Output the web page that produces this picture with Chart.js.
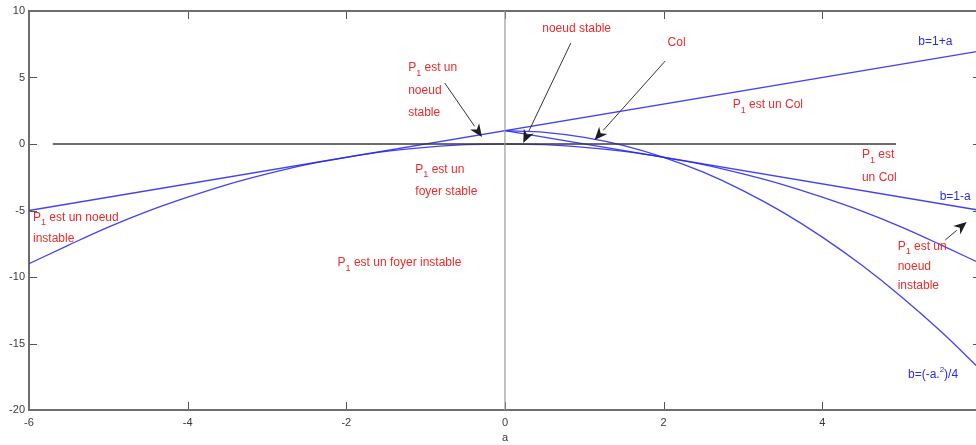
<!DOCTYPE html>
<html>
<head>
<meta charset="utf-8">
<script src="https://cdn.jsdelivr.net/npm/chart.js@4/dist/chart.umd.min.js"></script>
<style>
  html, body { margin: 0; padding: 0; background: #fff; overflow: hidden; }
  #wrap { position: relative; width: 990px; height: 445px; }
</style>
</head>
<body>
<div id="wrap"><canvas id="c"></canvas></div>
<script>
// Tick values of the two axes
const aTicks = [-6, -4, -2, 0, 2, 4, 6];
const bTicks = [-20, -15, -10, -5, 0, 5, 10];

// b = 1 + a
const risingA = [-6, 6];
const risingB = [-5, 7];

// b = 1 - a (right half)
const fallingA = [0, 6];
const fallingB = [1, -5];

// b = -a^2/4
const parabolaA = [-6, -5.5, -5, -4.5, -4, -3.5, -3, -2.5, -2, -1.5, -1, -0.5, 0,
                   0.5, 1, 1.5, 2, 2.5, 3, 3.5, 4, 4.5, 5, 5.5, 6];
const parabolaB = [-9, -7.6, -6.25, -5.05, -4, -3.05, -2.25, -1.55, -1, -0.55, -0.25, -0.05, 0,
                   -0.05, -0.25, -0.55, -1, -1.55, -2.25, -3.05, -4, -5.05, -6.25, -7.6, -9];

// steep curve starting at (0, 1)
const steepA = [0, 0.5, 1, 1.5, 2, 2.5, 3, 3.5, 4, 4.5, 5, 5.5, 6];
const steepB = [1, 0.88, 0.5, -0.12, -1, -2.12, -3.5, -5.12, -7, -9.12, -11.5, -14.12, -17];

// b = 0 reference line and a = 0 axis
const zeroLineA = [-5.7, 4.93];
const zeroLineB = [0, 0];
const vertA = [0, 0];
const vertB = [-20, 10];

function pts(xs, ys) { return xs.map((x, i) => ({ x: x, y: ys[i] })); }

const RED = '#ee2c2c';
const BLUE = '#2a2aee';
const FONT = '"Liberation Sans", Arial, sans-serif';

// Region labels: each entry is a list of text lines; "P1" gets a subscript 1
const notes = [
  { lines: ['§P est un', 'noeud', 'stable'], a: -1.22, b: 5.71, gap: 1.68, color: RED },
  { lines: ['noeud stable'], a: 0.47, b: 8.65, gap: 0, color: RED },
  { lines: ['Col'], a: 2.05, b: 7.59, gap: 0, color: RED },
  { lines: ['§P est un Col'], a: 2.87, b: 2.93, gap: 0, color: RED },
  { lines: ['§P est', 'un Col'], a: 4.5, b: -0.83, gap: 1.73, color: RED },
  { lines: ['§P est un', 'noeud', 'instable'], a: 4.95, b: -7.74, gap: 1.47, color: RED },
  { lines: ['§P est un foyer instable'], a: -2.11, b: -8.95, gap: 0, color: RED },
  { lines: ['§P est un', 'foyer stable'], a: -1.13, b: -1.95, gap: 1.66, color: RED },
  { lines: ['§P est un noeud', 'instable'], a: -5.95, b: -5.55, gap: 1.58, color: RED },
  { lines: ['b=1+a'], a: 5.21, b: 7.67, gap: 0, color: BLUE },
  { lines: ['b=1-a'], a: 5.48, b: -3.98, gap: 0, color: BLUE },
  { lines: ['%b=(-a.|2|)/4'], a: 5.08, b: -17.37, gap: 0, color: BLUE }
];

// Pointer arrows: from (a0,b0) to tip (a1,b1)
const arrows = [
  { a0: -0.76, b0: 4.59, a1: -0.29, b1: 0.53 },
  { a0: 0.83, b0: 7.59, a1: 0.23, b1: 0.08 },
  { a0: 2.02, b0: 6.24, a1: 1.13, b1: 0.30 },
  { a0: 5.55, b0: -7.22, a1: 5.82, b1: -5.86 }
];

const framePlugin = {
  id: 'frame',
  beforeDatasetsDraw(chart) {
    const { ctx, chartArea: ca, scales } = chart;
    ctx.save();
    ctx.strokeStyle = '#555';
    ctx.lineWidth = 1;
    const tl = 8;
    aTicks.forEach(v => {
      const x = Math.round(scales.x.getPixelForValue(v)) + 0.5;
      ctx.beginPath();
      ctx.moveTo(x, ca.top); ctx.lineTo(x, ca.top + tl);
      ctx.moveTo(x, ca.bottom); ctx.lineTo(x, ca.bottom - tl);
      ctx.stroke();
    });
    bTicks.forEach(v => {
      const y = Math.round(scales.y.getPixelForValue(v)) + 0.5;
      ctx.beginPath();
      ctx.moveTo(ca.left, y); ctx.lineTo(ca.left + tl, y);
      ctx.moveTo(ca.right, y); ctx.lineTo(ca.right - tl, y);
      ctx.stroke();
    });
    ctx.strokeStyle = '#6e6e6e';
    ctx.lineWidth = 2;
    ctx.strokeRect(ca.left, ca.top, ca.right - ca.left, ca.bottom - ca.top);
    ctx.restore();
  },
  afterDatasetsDraw(chart) {
    const { ctx, scales } = chart;
    const X = v => scales.x.getPixelForValue(v);
    const Y = v => scales.y.getPixelForValue(v);
    ctx.save();
    // arrows
    ctx.strokeStyle = '#333';
    ctx.fillStyle = '#1e1e1e';
    ctx.lineWidth = 1;
    arrows.forEach(ar => {
      const x0 = X(ar.a0), y0 = Y(ar.b0), x1 = X(ar.a1), y1 = Y(ar.b1);
      const ang = Math.atan2(y1 - y0, x1 - x0);
      const len = 13, half = 5.5;
      const bx = x1 - len * Math.cos(ang), by = y1 - len * Math.sin(ang);
      ctx.beginPath();
      ctx.moveTo(x0, y0); ctx.lineTo(bx, by);
      ctx.stroke();
      ctx.beginPath();
      ctx.moveTo(x1, y1);
      ctx.lineTo(bx + half * Math.sin(ang), by - half * Math.cos(ang));
      ctx.lineTo(bx + 4 * Math.cos(ang), by + 4 * Math.sin(ang));
      ctx.lineTo(bx - half * Math.sin(ang), by + half * Math.cos(ang));
      ctx.closePath();
      ctx.fill();
    });
    // labels
    ctx.textBaseline = 'middle';
    ctx.textAlign = 'left';
    notes.forEach(n => {
      ctx.fillStyle = n.color;
      n.lines.forEach((line, i) => {
        let x = X(n.a);
        const y = Y(n.b - i * n.gap);
        ctx.font = '12px ' + FONT;
        if (line.startsWith('§')) {
          // P with subscript 1
          ctx.fillText('P', x, y);
          x += ctx.measureText('P').width;
          ctx.font = '9px ' + FONT;
          ctx.fillText('1', x, y + 5);
          x += ctx.measureText('1').width;
          ctx.font = '12px ' + FONT;
          ctx.fillText(line.slice(2), x, y);
        } else if (line.startsWith('%')) {
          // text with a superscript part between bars
          const parts = line.slice(1).split('|');
          parts.forEach((p, k) => {
            ctx.font = (k === 1 ? '8px ' : '12px ') + FONT;
            ctx.fillText(p, x, k === 1 ? y - 5 : y);
            x += ctx.measureText(p).width;
          });
        } else {
          ctx.fillText(line, x, y);
        }
      });
    });
    ctx.restore();
  }
};

const blueLine = { borderColor: 'rgba(40,40,245,0.88)', borderWidth: 1.3, pointRadius: 0, showLine: true, fill: false };

new Chart(document.getElementById('c'), {
  type: 'scatter',
  data: {
    datasets: [
      { data: pts(vertA, vertB), borderColor: '#9a9a9a', borderWidth: 1.2, pointRadius: 0, showLine: true },
      { data: pts(zeroLineA, zeroLineB), borderColor: '#3a3a3a', borderWidth: 1.6, pointRadius: 0, showLine: true },
      Object.assign({ data: pts(risingA, risingB) }, blueLine),
      Object.assign({ data: pts(fallingA, fallingB) }, blueLine),
      Object.assign({ data: pts(parabolaA, parabolaB), cubicInterpolationMode: 'monotone' }, blueLine),
      Object.assign({ data: pts(steepA, steepB), cubicInterpolationMode: 'monotone' }, blueLine)
    ]
  },
  options: {
    responsive: true,
    maintainAspectRatio: false,
    animation: false,
    events: [],
    layout: { padding: { top: 11, right: 9, left: 0, bottom: 0 } },
    plugins: { legend: { display: false }, tooltip: { enabled: false } },
    scales: {
      x: {
        type: 'linear', min: -6, max: 6,
        afterBuildTicks: s => { s.ticks = aTicks.map(v => ({ value: v })); },
        afterFit: s => { s.height = 35; },
        grid: { display: false, drawTicks: false },
        border: { display: false },
        ticks: { color: '#3a3a3a', font: { family: FONT, size: 11 }, padding: 6, maxRotation: 0, autoSkip: false },
        title: { display: true, text: 'a', color: '#3a3a3a', font: { family: FONT, size: 11 }, padding: { top: 1, bottom: 0 } }
      },
      y: {
        type: 'linear', min: -20, max: 10,
        afterBuildTicks: s => { s.ticks = bTicks.map(v => ({ value: v })); },
        afterFit: s => { s.width = 29; },
        grid: { display: false, drawTicks: false },
        border: { display: false },
        ticks: { color: '#3a3a3a', font: { family: FONT, size: 11 }, padding: 4, autoSkip: false }
      }
    }
  },
  plugins: [framePlugin]
});
</script>
</body>
</html>
